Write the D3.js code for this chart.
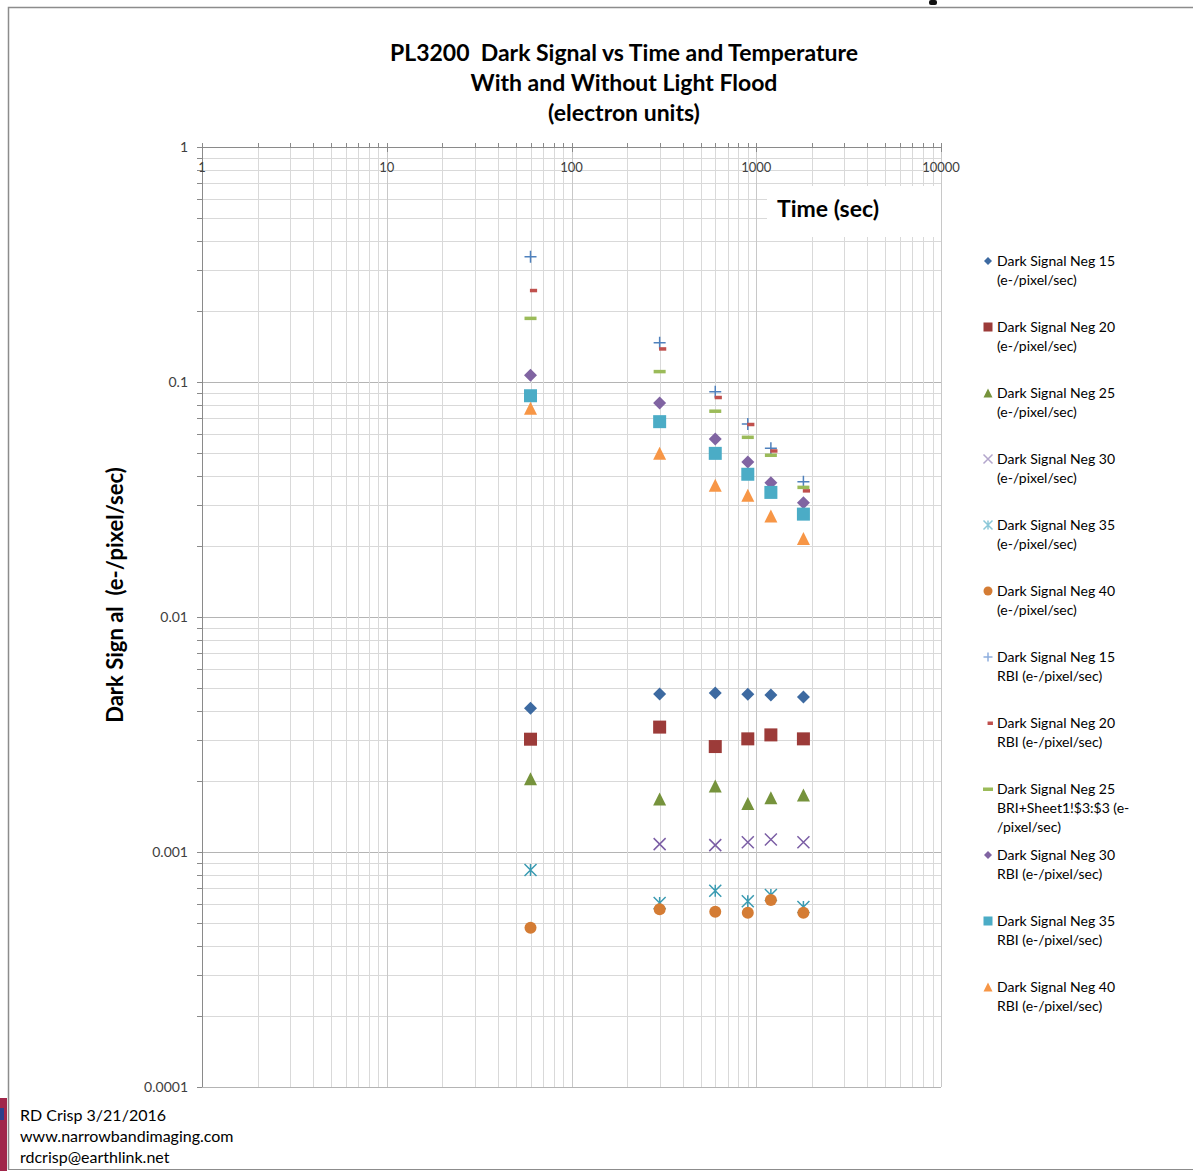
<!DOCTYPE html>
<html>
<head>
<meta charset="utf-8">
<title>PL3200 Dark Signal vs Time and Temperature</title>
<script src="https://d3js.org/d3.v7.min.js"></script>
<style>
  body { margin: 0; background: #fff; }
  svg text { font-family: Lato, "Open Sans", sans-serif; white-space: pre; }
</style>
</head>
<body>
<div id="chart"></div>
<script>
// exposure times (sec)
const times = [60, 300, 600, 900, 1200, 1800];

// dark signal, no light flood (e-/pixel/sec)
const darkNeg15 = [0.00409, 0.00470, 0.00475, 0.00469, 0.00466, 0.00457];
const darkNeg20 = [0.00302, 0.00340, 0.00281, 0.00303, 0.00315, 0.00303];
const darkNeg25 = [0.00205, 0.00168, 0.00191, 0.00161, 0.00170, 0.00175];
const darkNeg30 = [null, 0.00108, 0.00107, 0.00110, 0.00113, 0.00110];
const darkNeg35 = [0.000838, 0.000607, 0.000684, 0.000617, 0.000656, 0.000583];
const darkNeg40 = [0.000476, 0.000571, 0.000557, 0.000552, 0.000625, 0.000552];

// dark signal with RBI light flood (e-/pixel/sec)
const rbiNeg15 = [0.341, 0.147, 0.0910, 0.0663, 0.0522, 0.0376];
const rbiNeg20 = [0.2456, 0.1386, 0.0861, 0.0661, 0.0510, 0.0345];
const rbiNeg25 = [0.187, 0.111, 0.0753, 0.0583, 0.0489, 0.0357];
const rbiNeg30 = [0.1068, 0.0814, 0.0572, 0.0457, 0.0373, 0.0306];
const rbiNeg35 = [0.0874, 0.0678, 0.0497, 0.0405, 0.0339, 0.0274];
const rbiNeg40 = [0.0773, 0.0497, 0.0364, 0.0330, 0.0269, 0.0216];

const xTickLabels = ["1", "10", "100", "1000", "10000"];
const yTickLabels = ["1", "0.1", "0.01", "0.001", "0.0001"];

const series = [
  { name: ["Dark Signal Neg 15", "(e-/pixel/sec)"], values: darkNeg15, shape: "diamond", color: "#3d6aa1" },
  { name: ["Dark Signal Neg 20", "(e-/pixel/sec)"], values: darkNeg20, shape: "square", color: "#9c3b39" },
  { name: ["Dark Signal Neg 25", "(e-/pixel/sec)"], values: darkNeg25, shape: "triangle", color: "#76933c" },
  { name: ["Dark Signal Neg 30", "(e-/pixel/sec)"], values: darkNeg30, shape: "x", color: "#7b5ea5", legendColor: "#b3a6cc" },
  { name: ["Dark Signal Neg 35", "(e-/pixel/sec)"], values: darkNeg35, shape: "asterisk", color: "#3a9bb2", legendColor: "#8cc8d8" },
  { name: ["Dark Signal Neg 40", "(e-/pixel/sec)"], values: darkNeg40, shape: "circle", color: "#d47c34" },
  { name: ["Dark Signal Neg 15", "RBI (e-/pixel/sec)"], values: rbiNeg15, shape: "plus", color: "#4f81bd", legendColor: "#8eaede" },
  { name: ["Dark Signal Neg 20", "RBI (e-/pixel/sec)"], values: rbiNeg20, shape: "shortdash", color: "#c0504d" },
  { name: ["Dark Signal Neg 25", "BRI+Sheet1!$3:$3 (e-", "/pixel/sec)"], values: rbiNeg25, shape: "dash", color: "#9bbb59" },
  { name: ["Dark Signal Neg 30", "RBI (e-/pixel/sec)"], values: rbiNeg30, shape: "diamond", color: "#8064a2" },
  { name: ["Dark Signal Neg 35", "RBI (e-/pixel/sec)"], values: rbiNeg35, shape: "square", color: "#4bacc6" },
  { name: ["Dark Signal Neg 40", "RBI (e-/pixel/sec)"], values: rbiNeg40, shape: "triangle", color: "#f79646" }
];

const W = 1193, H = 1171;
const svg = d3.select("#chart").append("svg")
  .attr("width", W).attr("height", H);

// chart frame
svg.append("path")
  .attr("d", "M8.5,1169.5 L8.5,7.5 L1193,7.5")
  .attr("fill", "none").attr("stroke", "#8c8c8c").attr("stroke-width", 1.5);
svg.append("line").attr("x1", 8).attr("x2", W).attr("y1", 1169.5).attr("y2", 1169.5)
  .attr("stroke", "#8c8c8c");
svg.append("rect").attr("x", 929).attr("y", 0).attr("width", 8).attr("height", 5).attr("rx", 2).attr("fill", "#111");
svg.append("rect").attr("x", 0).attr("y", 1098).attr("width", 7).attr("height", 73).attr("fill", "#a0264a");
svg.append("rect").attr("x", 0).attr("y", 1108).attr("width", 4).attr("height", 12).attr("fill", "#2c3e8c");

// scales
const x = d3.scaleLog().domain([1, 10000]).range([202, 941]);
const y = d3.scaleLog().domain([0.0001, 1]).range([1087, 147]);

const g = svg.append("g");

// gridlines
const xGrid = [], yGrid = [];
for (let e = 0; e < 4; e++) for (let k = 1; k <= 9; k++) xGrid.push(k * Math.pow(10, e));
xGrid.push(10000);
for (let e = -4; e < 0; e++) for (let k = 1; k <= 9; k++) yGrid.push(k * Math.pow(10, e));
yGrid.push(1);
const isMajor = v => Math.abs(Math.log10(v) - Math.round(Math.log10(v))) < 1e-9;

g.selectAll(".hgrid").data(yGrid).enter().append("line")
  .attr("x1", 202).attr("x2", 941)
  .attr("y1", d => Math.round(y(d)) + 0.5).attr("y2", d => Math.round(y(d)) + 0.5)
  .attr("stroke", d => isMajor(d) ? "#b4b4b4" : "#d9d9d9");
g.selectAll(".vgrid").data(xGrid).enter().append("line")
  .attr("y1", 147).attr("y2", 1087)
  .attr("x1", d => Math.round(x(d)) + 0.5).attr("x2", d => Math.round(x(d)) + 0.5)
  .attr("stroke", d => isMajor(d) ? "#c8c8c8" : "#d9d9d9");

// axis lines and ticks
g.append("line").attr("x1", 197).attr("x2", 941).attr("y1", 147.5).attr("y2", 147.5).attr("stroke", "#8a8a8a");
g.append("line").attr("x1", 202.5).attr("x2", 202.5).attr("y1", 143).attr("y2", 1087).attr("stroke", "#8a8a8a");
g.selectAll(".xtick").data(xGrid).enter().append("line")
  .attr("x1", d => Math.round(x(d)) + 0.5).attr("x2", d => Math.round(x(d)) + 0.5)
  .attr("y1", 143).attr("y2", d => isMajor(d) ? 152 : 147)
  .attr("stroke", "#8a8a8a");
g.selectAll(".ytick").data(yGrid).enter().append("line")
  .attr("y1", d => Math.round(y(d)) + 0.5).attr("y2", d => Math.round(y(d)) + 0.5)
  .attr("x1", 197).attr("x2", 202)
  .attr("stroke", "#8a8a8a");

// tick labels
g.selectAll(".xlab").data(xTickLabels).enter().append("text")
  .attr("x", d => x(+d)).attr("y", 172)
  .attr("text-anchor", "middle").attr("font-size", 13).attr("fill", "#404040")
  .text(d => d);
g.selectAll(".ylab").data(yTickLabels).enter().append("text")
  .attr("x", 188).attr("y", d => y(+d) + 5)
  .attr("text-anchor", "end").attr("font-size", 14).attr("fill", "#404040")
  .text(d => d);

// x axis title box
svg.append("rect").attr("x", 767).attr("y", 186).attr("width", 174).attr("height", 51).attr("fill", "#fff");
svg.append("text").attr("x", 777).attr("y", 217).attr("font-size", 23).attr("font-weight", "bold")
  .attr("fill", "#000").text("Time (sec)");

// y axis title
svg.append("text").attr("transform", "translate(123,595) rotate(-90)")
  .attr("text-anchor", "middle").attr("font-size", 22).attr("font-weight", "bold")
  .text("Dark Sign al  (e-/pixel/sec)");

// title
const titleLines = ["PL3200  Dark Signal vs Time and Temperature", "With and Without Light Flood", "(electron units)"];
svg.selectAll(".title").data(titleLines).enter().append("text")
  .attr("x", 624).attr("y", (d, i) => 61 + i * 30)
  .attr("text-anchor", "middle").attr("font-size", 23).attr("font-weight", "bold")
  .text(d => d);

// markers
function drawMarker(sel, shape, color, s) {
  const h = s / 2;
  if (shape === "diamond") {
    sel.append("path").attr("d", `M0,${-h}L${h},0L0,${h}L${-h},0Z`).attr("fill", color);
  } else if (shape === "square") {
    sel.append("rect").attr("x", -h).attr("y", -h).attr("width", s).attr("height", s).attr("fill", color);
  } else if (shape === "triangle") {
    sel.append("path").attr("d", `M0,${-h}L${h},${h}L${-h},${h}Z`).attr("fill", color);
  } else if (shape === "circle") {
    sel.append("circle").attr("r", h).attr("fill", color);
  } else if (shape === "x") {
    sel.append("path").attr("d", `M${-h},${-h}L${h},${h}M${-h},${h}L${h},${-h}`)
      .attr("stroke", color).attr("stroke-width", 1.5).attr("fill", "none");
  } else if (shape === "asterisk") {
    sel.append("path").attr("d", `M${-h},${-h}L${h},${h}M${-h},${h}L${h},${-h}M0,${-h}L0,${h}`)
      .attr("stroke", color).attr("stroke-width", 1.5).attr("fill", "none");
  } else if (shape === "plus") {
    sel.append("path").attr("d", `M${-h},0L${h},0M0,${-h}L0,${h}`)
      .attr("stroke", color).attr("stroke-width", 1.5).attr("fill", "none");
  } else if (shape === "shortdash") {
    sel.append("rect").attr("x", -s * 0.05).attr("y", -1.5).attr("width", s * 0.6).attr("height", 3.5).attr("fill", color);
  } else if (shape === "dash") {
    sel.append("rect").attr("x", -h).attr("y", -1.5).attr("width", s).attr("height", 3.5).attr("fill", color);
  }
}

const markerSize = { diamond: 13, square: 13, triangle: 13, circle: 12, x: 12, asterisk: 12, plus: 12, shortdash: 12, dash: 12 };

series.forEach(sr => {
  const pts = times.map((t, i) => ({ t, v: sr.values[i] })).filter(p => p.v != null);
  pts.forEach(p => {
    const m = svg.append("g").attr("transform", `translate(${x(p.t)},${y(p.v)})`);
    drawMarker(m, sr.shape, sr.color, markerSize[sr.shape]);
  });
});

// legend
series.forEach((sr, i) => {
  const ly = 261 + i * 66;
  const m = svg.append("g").attr("transform", `translate(988,${ly})`);
  const ls = { diamond: 8, square: 9, triangle: 9, circle: 9, x: 9, asterisk: 9, plus: 9, shortdash: 9, dash: 10 }[sr.shape];
  drawMarker(m, sr.shape, sr.legendColor || sr.color, ls);
  sr.name.forEach((line, j) => {
    svg.append("text").attr("x", 997).attr("y", ly + 5 + j * 19)
      .attr("font-size", 14).attr("fill", "#000").text(line);
  });
});

// footer
const footer = ["RD Crisp 3/21/2016", "www.narrowbandimaging.com", "rdcrisp@earthlink.net"];
svg.selectAll(".foot").data(footer).enter().append("text")
  .attr("x", 20).attr("y", (d, i) => 1121 + i * 21)
  .attr("font-size", 16).attr("fill", "#000").text(d => d);
</script>
</body>
</html>
